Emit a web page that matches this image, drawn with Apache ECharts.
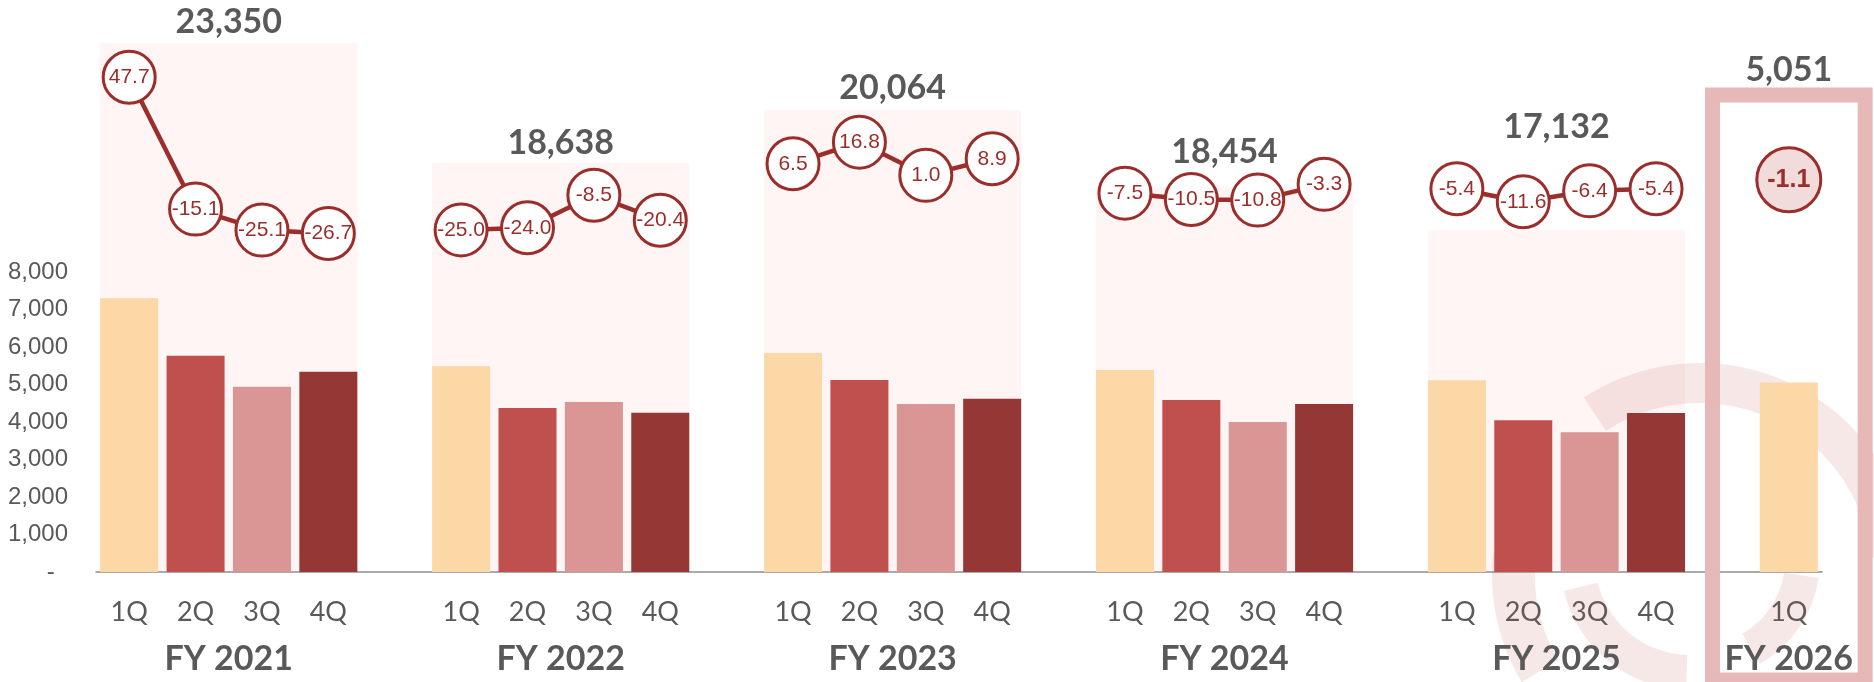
<!DOCTYPE html>
<html>
<head>
<meta charset="utf-8">
<script src="https://cdn.jsdelivr.net/npm/echarts@6/dist/echarts.min.js"></script>
<style>
html, body { margin: 0; padding: 0; background: #fff; }
#main { width: 1874px; height: 682px; }
</style>
</head>
<body>
<div id="main"></div>
<script>
var years = ['FY 2021', 'FY 2022', 'FY 2023', 'FY 2024', 'FY 2025', 'FY 2026'];
var quarters = ['1Q', '2Q', '3Q', '4Q'];
var sales = [
    [7300, 5770, 4940, 5340],
    [5490, 4372, 4532, 4244],
    [5840, 5122, 4483, 4619],
    [5387, 4587, 4000, 4480],
    [5115, 4050, 3730, 4237],
    [5051]
];
var yoy = [
    [47.7, -15.1, -25.1, -26.7],
    [-25.0, -24.0, -8.5, -20.4],
    [6.5, 16.8, 1.0, 8.9],
    [-7.5, -10.5, -10.8, -3.3],
    [-5.4, -11.6, -6.4, -5.4],
    [-1.1]
];
var totals = [23350, 18638, 20064, 18454, 17132, 5051];

// layout only: height of the pink panels and of the total labels, in sales units
var panelTop = [14107, 10915, 12320, 10259, 9120, null];
var totalTop = [14675, 11432, 12899, 11208, 11875, 13387];

var barColors = ['#FDD8A7', '#C0504D', '#D99694', '#953735'];
var red = '#9B2D2A';
var grey = '#595959';
var gapRatio = 0.126;

var cats = [], barData = [], lineData = [], groups = [];
years.forEach(function (fy, i) {
    var start = cats.length;
    sales[i].forEach(function (v, q) {
        cats.push(fy + ' ' + quarters[q]);
        barData.push({ value: v, itemStyle: { color: barColors[q] } });
        lineData.push(yoy[i][q]);
    });
    groups.push([start, cats.length - 1, panelTop[i] == null ? NaN : panelTop[i], totalTop[i], totals[i], i]);
    if (i < years.length - 1) {
        cats.push('gap' + i);
        barData.push('-');
        lineData.push('-');
    }
});
// the latest quarter gets the highlighted bubble
var last = lineData.length - 1;
lineData[last] = {
    value: lineData[last],
    symbolSize: 64,
    itemStyle: { color: '#F2DCDB' },
    label: { fontWeight: 'bold', fontSize: 25 }
};

function groupBox(params, api) {
    var band = api.size([1, 0])[0];
    var half = band * (1 - gapRatio) / 2;
    var base = api.coord([api.value(0), 0]);
    var left = base[0] - half;
    var right = api.coord([api.value(1), 0])[0] + half;
    return { band: band, base: base, left: left, right: right, cx: (left + right) / 2 };
}

// faint logo in the lower right corner
var wm = 'rgba(192,80,77,0.13)';
var logo = [
    { cx: 1700, cy: 575, r0: 172, r: 212, startAngle: -2.15, endAngle: -0.1 },
    { cx: 1700, cy: 575, r0: 165, r: 208, startAngle: 2.6, endAngle: 3.25 },
    { cx: 1690, cy: 560, r0: 95, r: 130, startAngle: 1.6, endAngle: 2.9 },
    { cx: 1700, cy: 560, r0: 85, r: 120, startAngle: 0.15, endAngle: 1.05 }
];

var chart = echarts.init(document.getElementById('main'));
chart.setOption({
    animation: false,
    textStyle: { fontFamily: 'Lato' },
    grid: { left: 96, right: 52, top: 9.5, bottom: 110, outerBoundsMode: 'none' },
    graphic: {
        elements: logo.map(function (s) {
            return { type: 'sector', z: 1, silent: true, shape: s, style: { fill: wm } };
        })
    },
    xAxis: {
        type: 'category',
        data: cats,
        axisTick: { show: false },
        axisLine: { lineStyle: { color: '#8F8F8F', width: 1.5 } },
        axisLabel: {
            interval: 0,
            margin: 27,
            fontSize: 27,
            color: grey,
            formatter: function (v) { return v.indexOf('gap') === 0 ? '' : v.slice(-2); }
        }
    },
    yAxis: [{
        type: 'value',
        min: 0,
        max: 15000,
        interval: 1000,
        splitLine: { show: false },
        axisLine: { show: false },
        axisTick: { show: false },
        axisLabel: {
            margin: 28,
            fontSize: 24,
            fontFamily: 'Liberation Sans',
            color: grey,
            formatter: function (v) {
                if (v > 8000) return '';
                if (v === 0) return '-  ';
                return v.toLocaleString('en-US');
            }
        }
    }, {
        type: 'value',
        min: -188,
        max: 80,
        show: false
    }],
    series: [{
        type: 'custom',
        z: 0,
        silent: true,
        clip: false,
        data: groups,
        renderItem: function (params, api) {
            var g = groupBox(params, api);
            var top = api.value(2);
            if (isNaN(top)) return null;
            var y = api.coord([api.value(0), top])[1];
            return {
                type: 'rect',
                shape: { x: g.left, y: y, width: g.right - g.left, height: g.base[1] - y - 1 },
                style: { fill: 'rgba(250,215,212,0.25)' }
            };
        }
    }, {
        type: 'bar',
        z: 2,
        barCategoryGap: (gapRatio * 100) + '%',
        data: barData
    }, {
        type: 'line',
        z: 3,
        yAxisIndex: 1,
        data: lineData,
        symbol: 'circle',
        symbolSize: 52,
        lineStyle: { color: red, width: 4.5 },
        itemStyle: { color: '#fff', borderColor: red, borderWidth: 3 },
        label: {
            show: true,
            position: 'inside',
            fontFamily: 'Liberation Sans',
            fontSize: 21,
            color: red,
            formatter: function (p) { return p.value.toFixed(1); }
        }
    }, {
        type: 'custom',
        z: 10,
        silent: true,
        clip: false,
        data: groups,
        renderItem: function (params, api) {
            var g = groupBox(params, api);
            var ty = api.coord([api.value(0), api.value(3)])[1];
            var kids = [{
                type: 'text',
                style: {
                    x: g.cx, y: ty,
                    text: api.value(4).toLocaleString('en-US'),
                    align: 'center', verticalAlign: 'middle',
                    font: 'bold 34px Lato', fill: grey
                }
            }, {
                type: 'text',
                style: {
                    x: g.cx, y: g.base[1] + 87,
                    text: years[api.value(5)],
                    align: 'center', verticalAlign: 'middle',
                    font: 'bold 34px Lato', fill: grey
                }
            }];
            if (params.dataIndex === years.length - 1) {
                var w = g.band * 1.15;
                var yTop = ty + 25;
                kids.unshift({
                    type: 'rect',
                    shape: { x: g.cx - w, y: yTop, width: 2 * w, height: g.base[1] + 108 - yTop },
                    style: { fill: null, stroke: '#E6B8B7', lineWidth: 15 }
                });
            }
            return { type: 'group', children: kids };
        }
    }]
});
</script>
</body>
</html>
